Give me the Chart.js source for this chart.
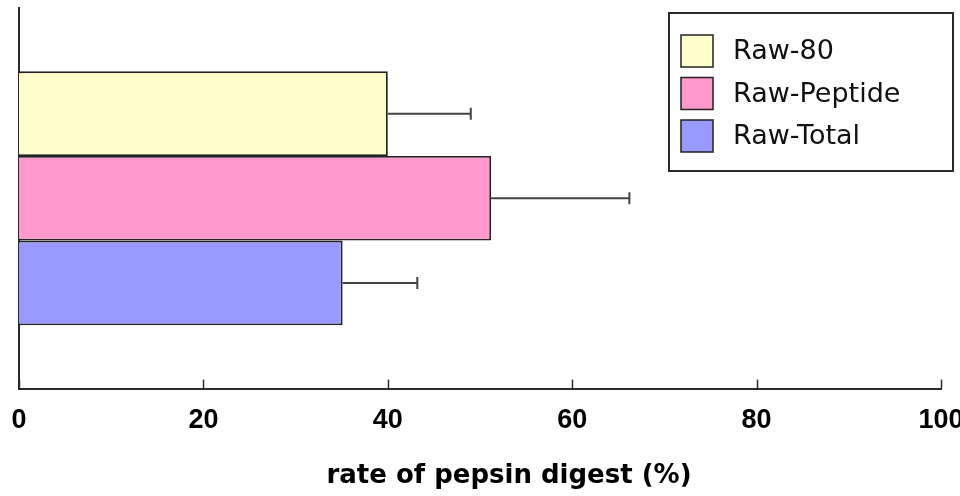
<!DOCTYPE html>
<html>
<head>
<meta charset="utf-8">
<script src="https://cdn.jsdelivr.net/npm/chart.js@4/dist/chart.umd.min.js"></script>
<style>
  html, body { margin: 0; padding: 0; background: #ffffff; }
  #wrap { width: 960px; height: 496px; }
</style>
</head>
<body>
<div id="wrap"><canvas id="chart" width="960" height="496"></canvas></div>
<script>
// Pepsin digestion rate by sample (%), with upper error (SD)
const categories = [''];
const seriesNames = ['Raw-80', 'Raw-Peptide', 'Raw-Total'];
const seriesValues = [40.0, 51.2, 35.1];
const seriesErrors = [9.0, 15.0, 8.1];
const seriesColors = ['#FFFFCC', '#FF99CC', '#9999FF'];
const xTicks = [0, 20, 40, 60, 80, 100];
const axisTitle = 'rate of pepsin digest (%)';

const AXIS_COLOR = '#2a2a2a';
const EDGE_COLOR = '#222222';

const datasets = seriesNames.map((name, i) => ({
  label: name,
  data: [seriesValues[i]],
  errorPlus: [seriesErrors[i]],
  backgroundColor: seriesColors[i],
  borderColor: EDGE_COLOR,
  borderWidth: 1.8,
  borderSkipped: 'start',
  categoryPercentage: 0.667,
  barPercentage: 1.0
}));

// Error whiskers (positive side only) with a small vertical cap
const errorBars = {
  id: 'errorBars',
  afterDatasetsDraw(chart) {
    const ctx = chart.ctx;
    const xs = chart.scales.x;
    ctx.save();
    ctx.strokeStyle = '#444444';
    ctx.lineWidth = 2;
    chart.data.datasets.forEach((ds, i) => {
      const meta = chart.getDatasetMeta(i);
      meta.data.forEach((bar, j) => {
        const v = ds.data[j];
        const e = ds.errorPlus[j];
        const x0 = xs.getPixelForValue(v);
        const x1 = xs.getPixelForValue(v + e);
        const y = bar.y;
        ctx.beginPath();
        ctx.moveTo(x0, y);
        ctx.lineTo(x1, y);
        ctx.moveTo(x1, y - 6);
        ctx.lineTo(x1, y + 6);
        ctx.stroke();
      });
    });
    ctx.restore();
  }
};

// Inward tick marks, axis title and boxed legend
const decorations = {
  id: 'decorations',
  afterDraw(chart) {
    const ctx = chart.ctx;
    const xs = chart.scales.x;
    const area = chart.chartArea;
    ctx.save();

    // tick marks pointing up into the plot
    ctx.strokeStyle = AXIS_COLOR;
    ctx.lineWidth = 1.5;
    xs.ticks.forEach(t => {
      const x = Math.round(xs.getPixelForValue(t.value)) + 0.5;
      ctx.beginPath();
      ctx.moveTo(x, area.bottom);
      ctx.lineTo(x, area.bottom - 9);
      ctx.stroke();
    });

    // axis title
    ctx.fillStyle = '#000000';
    ctx.font = 'bold 26px "DejaVu Sans"';
    ctx.textAlign = 'center';
    ctx.textBaseline = 'alphabetic';
    ctx.fillText(axisTitle, 509, 483);

    // legend frame
    const lx = 669, ly = 13, lw = 284, lh = 158;
    ctx.fillStyle = '#ffffff';
    ctx.fillRect(lx, ly, lw, lh);
    ctx.strokeStyle = AXIS_COLOR;
    ctx.lineWidth = 2;
    ctx.strokeRect(lx, ly, lw, lh);

    ctx.font = '27px "DejaVu Sans"';
    ctx.textAlign = 'left';
    ctx.textBaseline = 'middle';
    chart.data.datasets.forEach((ds, i) => {
      const sy = 35 + i * 42.5;
      ctx.fillStyle = ds.backgroundColor;
      ctx.fillRect(681, sy, 32, 32);
      ctx.strokeStyle = EDGE_COLOR;
      ctx.lineWidth = 1.5;
      ctx.strokeRect(681, sy, 32, 32);
      ctx.fillStyle = '#111111';
      ctx.fillText(ds.label, 733, sy + 17);
    });
    ctx.restore();
  }
};

new Chart(document.getElementById('chart'), {
  type: 'bar',
  data: { labels: categories, datasets },
  options: {
    indexAxis: 'y',
    responsive: false,
    animation: false,
    devicePixelRatio: 1,
    layout: { padding: { left: 19, right: 19, top: 8, bottom: 43 } },
    plugins: {
      legend: { display: false },
      tooltip: { enabled: false }
    },
    scales: {
      x: {
        type: 'linear',
        min: 0,
        max: 100,
        afterBuildTicks(scale) {
          scale.ticks = xTicks.map(v => ({ value: v }));
        },
        afterFit(scale) {
          // let the end labels overhang the plot edges
          scale.paddingLeft = 0;
          scale.paddingRight = 0;
        },
        grid: { display: false, drawTicks: false },
        border: { display: true, color: AXIS_COLOR, width: 2 },
        ticks: {
          color: '#000000',
          padding: 16,
          maxRotation: 0,
          font: { family: '"Liberation Sans", Arial, sans-serif', size: 27, weight: 'bold' }
        }
      },
      y: {
        type: 'category',
        grid: { display: false, drawTicks: false },
        border: { display: true, color: AXIS_COLOR, width: 2 },
        ticks: { display: false }
      }
    }
  },
  plugins: [errorBars, decorations]
});
</script>
</body>
</html>
